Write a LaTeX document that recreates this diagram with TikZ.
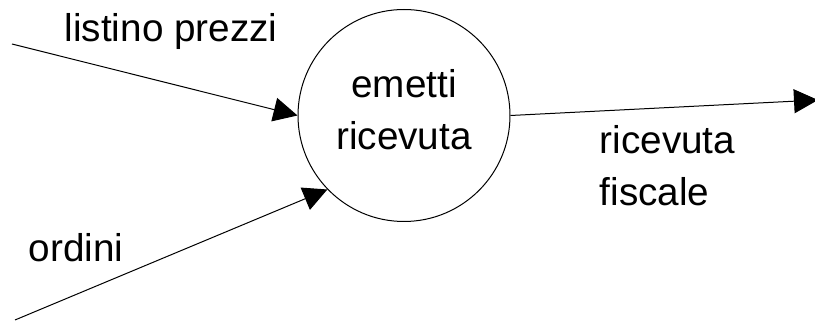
\documentclass[tikz,border=0pt]{standalone}
\usepackage{fontspec}
\setmainfont{Liberation Sans}
\usetikzlibrary{arrows.meta,positioning}

\begin{document}
\begin{tikzpicture}[x=1pt,y=1pt,
    flow/.style={line width=1pt,-{Triangle[length=24pt,width=24pt]}},
    txt/.style={inner sep=0pt,font=\fontsize{38.7}{52}\selectfont}]
    \useasboundingbox (0,0) rectangle (815,321);

    % process
    \node[draw,circle,line width=1pt,minimum size=212pt,inner sep=0pt] (proc) at (404,205.5) {};
    \node[txt,align=center] (proclabel) at ([yshift=6pt]proc.center) {emetti\\ricevuta};

    % free ends
    \coordinate (in1) at (12,277);
    \coordinate (in2) at (15,1);
    \coordinate (out1) at (818,221);

    % label
    \node[txt,anchor=base west] (inlabel1) at (64.5,279) {listino prezzi};
    \node[txt,anchor=base west] (inlabel2) at (28.6,59) {ordini};
    \node[txt,anchor=north west,align=left] (outlabel1) at (599.5,195.7) {ricevuta\\fiscale};

    \foreach \from/\to in {in1/proc.west,in2/proc.224,proc.east/out1}
    \draw[flow] (\from)--(\to);
\end{tikzpicture}
\end{document}
